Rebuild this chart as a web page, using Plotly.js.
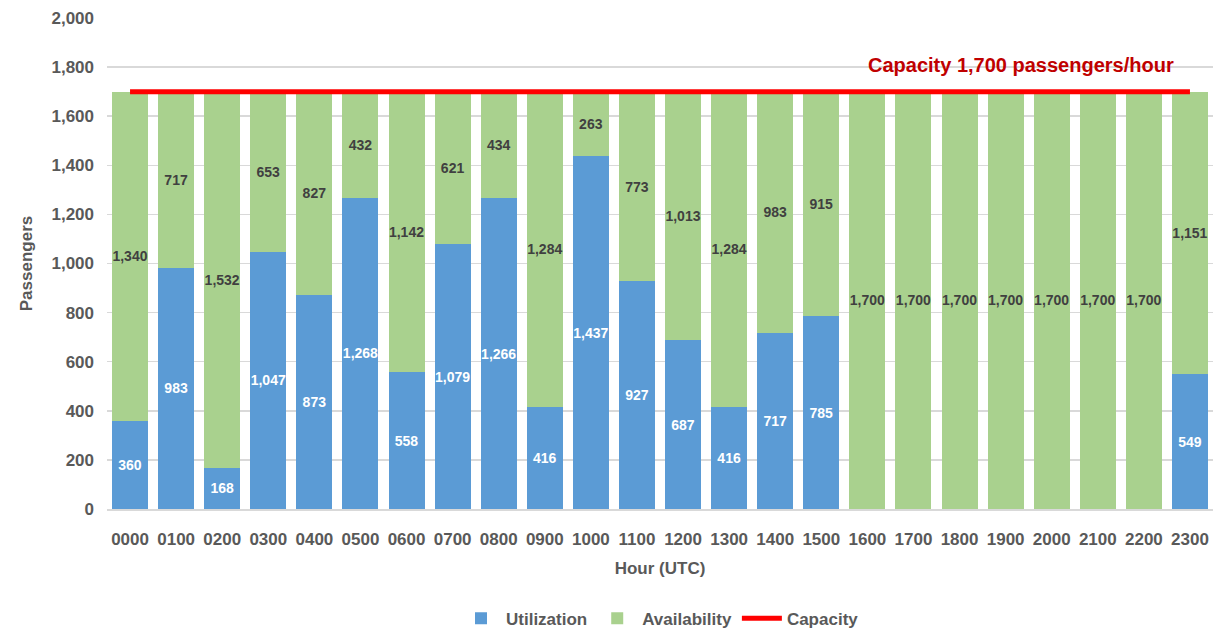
<!DOCTYPE html>
<html><head><meta charset="utf-8">
<script src="https://cdn.plot.ly/plotly-3.0.1.min.js"></script>
<style>html,body{margin:0;padding:0;background:#fff}#chart{width:1219px;height:631px}</style>
</head><body><div id="chart"></div>
<script>
const hours = ["0000","0100","0200","0300","0400","0500","0600","0700","0800","0900","1000","1100","1200","1300","1400","1500","1600","1700","1800","1900","2000","2100","2200","2300"];
const utilization = [360,983,168,1047,873,1268,558,1079,1266,416,1437,927,687,416,717,785,0,0,0,0,0,0,0,549];
const availability = [1340,717,1532,653,827,432,1142,621,434,1284,263,773,1013,1284,983,915,1700,1700,1700,1700,1700,1700,1700,1151];
const capacity = 1700;
const capacityLabel = "Capacity 1,700 passengers/hour";

const fmt = v => v === 0 ? "" : v.toLocaleString("en-US");
const labelFont = {family: "Liberation Sans, Arial, sans-serif", size: 14, weight: "bold"};
const axisFont = {family: "Liberation Sans, Arial, sans-serif", size: 17, color: "#595959", weight: "bold"};

const traces = [
  {type: "bar", name: "Utilization", x: hours, y: utilization, text: utilization.map(fmt),
   textposition: "inside", insidetextanchor: "middle", textangle: 0, constraintext: "none",
   textfont: Object.assign({}, labelFont, {color: "#ffffff"}),
   marker: {color: "#5B9BD5"}, hoverinfo: "x+y"},
  {type: "bar", name: "Availability", x: hours, y: availability, text: availability.map(fmt),
   textposition: "inside", insidetextanchor: "middle", textangle: 0, constraintext: "none",
   textfont: Object.assign({}, labelFont, {color: "#404040"}),
   marker: {color: "#A9D18E"}, hoverinfo: "x+y"},
  {type: "scatter", mode: "lines", name: "Capacity", x: hours, y: hours.map(() => capacity),
   line: {color: "#FF0000", width: 5}, hoverinfo: "y"}
];

const layout = {
  width: 1219, height: 631,
  margin: {l: 107, r: 6, t: 18, b: 122},
  barmode: "stack", bargap: 0.22,
  paper_bgcolor: "#ffffff", plot_bgcolor: "#ffffff",
  showlegend: true,
  legend: {orientation: "h", x: 0.5, xanchor: "center", yref: "container", y: 0.048, yanchor: "top",
           font: axisFont, traceorder: "normal", itemwidth: 40},
  xaxis: {type: "category", tickfont: axisFont, showgrid: false, showline: true, automargin: false,
          linecolor: "#D9D9D9", linewidth: 1.5, ticks: "", ticklabelstandoff: 14,
          title: {text: "Hour (UTC)", font: axisFont, standoff: 14}},
  yaxis: {range: [0, 2000], dtick: 200, tickformat: ",d", tickfont: axisFont, automargin: false,
          gridcolor: "#D9D9D9", gridwidth: 1.5, zeroline: false, ticks: "", ticklen: 0, ticklabelstandoff: 12,
          title: {text: "Passengers", font: axisFont, standoff: 14}},
  annotations: [{text: capacityLabel, xref: "paper", yref: "y", x: 0.826, xanchor: "center", y: capacity, yshift: 27,
                 showarrow: false, font: {family: "Liberation Sans, Arial, sans-serif", size: 20, color: "#C00000", weight: "bold"}}]
};

Plotly.newPlot("chart", traces, layout, {displayModeBar: false, staticPlot: true});
</script></body></html>
